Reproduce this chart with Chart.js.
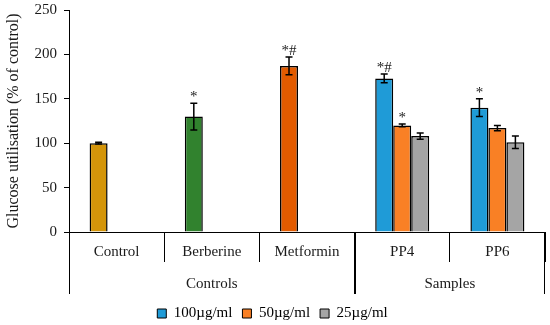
<!DOCTYPE html>
<html>
<head>
<meta charset="utf-8">
<script src="https://cdn.jsdelivr.net/npm/chart.js@4.4.1/dist/chart.umd.min.js"></script>
<style>
  html, body { margin: 0; padding: 0; background: #fff; }
  #wrap { width: 550px; height: 325px; position: relative; }
</style>
</head>
<body>
<div id="wrap"><canvas id="chart"></canvas></div>
<script>
// data
const categories = ['Control', 'Berberine', 'Metformin', 'PP4', 'PP6'];
const groups = ['Controls', 'Samples'];
const groupFirst = [0, 3];
const groupLast = [2, 4];
const seriesNames = ['100\u00b5g/ml', '50\u00b5g/ml', '25\u00b5g/ml'];
const yTicks = [0, 50, 100, 150, 200, 250];

const val100 = [100, 130, 187, 173, 140];
const err100 = [1, 15, 10, 5, 10];
const val50 = [null, null, null, 120, 117];
const err50 = [null, null, null, 1.5, 3];
const val25 = [null, null, null, 108, 101];
const err25 = [null, null, null, 3.5, 7];
const marks100 = ['', '*', '*#', '*#', '*'];
const marks50 = ['', '', '', '*', ''];
const marks25 = ['', '', '', '', ''];

const FONT = 'Liberation Serif';
const INK = '#1a1a1a';

const barColors100 = ['#d4950a', '#31822e', '#e35b00', '#1f9bd7', '#1f9bd7'];
const legendColors = ['#1f9bd7', '#f98025', '#a5a5a5'];
const errors = [err100, err50, err25];
const marks = [marks100, marks50, marks25];

// error bars, significance marks and the second level of the category axis
const extras = {
  id: 'extras',
  afterDatasetsDraw(chart) {
    const { ctx, scales: { y } } = chart;
    ctx.save();
    ctx.strokeStyle = '#000';
    ctx.lineWidth = 1.5;
    ctx.fillStyle = INK;
    ctx.font = '15px "' + FONT + '"';
    ctx.textAlign = 'center';
    ctx.textBaseline = 'alphabetic';
    chart.data.datasets.forEach((ds, d) => {
      const meta = chart.getDatasetMeta(d);
      ds.data.forEach((v, i) => {
        if (v === null) return;
        const e = errors[d][i];
        const x = meta.data[i].x;
        const top = y.getPixelForValue(v + e);
        const bot = y.getPixelForValue(v - e);
        ctx.beginPath();
        ctx.moveTo(x, top); ctx.lineTo(x, bot);
        ctx.moveTo(x - 3.5, top); ctx.lineTo(x + 3.5, top);
        ctx.moveTo(x - 3.5, bot); ctx.lineTo(x + 3.5, bot);
        ctx.stroke();
        if (marks[d][i]) ctx.fillText(marks[d][i], x, top - 2);
      });
    });
    ctx.restore();
  },
  afterDraw(chart) {
    const { ctx, scales: { x } } = chart;
    const half = (x.getPixelForValue(1) - x.getPixelForValue(0)) / 2;
    const yTop = chart.chartArea.bottom;
    ctx.save();
    ctx.strokeStyle = '#000';
    ctx.lineWidth = 1;
    ctx.fillStyle = INK;
    ctx.font = '15px "' + FONT + '"';
    ctx.textAlign = 'center';
    ctx.textBaseline = 'middle';
    groups.forEach((g, k) => {
      const left = x.getPixelForValue(groupFirst[k]) - half;
      const right = x.getPixelForValue(groupLast[k]) + half;
      ctx.beginPath();
      ctx.moveTo(Math.round(left) + 0.5, yTop); ctx.lineTo(Math.round(left) + 0.5, yTop + 62);
      ctx.moveTo(Math.round(right) - 0.5, yTop); ctx.lineTo(Math.round(right) - 0.5, yTop + 62);
      ctx.stroke();
      ctx.fillText(g, (left + right) / 2, yTop + 52);
    });
    ctx.restore();
  }
};

const config = {
  type: 'bar',
  data: {
    labels: categories,
    datasets: [
      { label: seriesNames[0], data: val100, backgroundColor: barColors100 },
      { label: seriesNames[1], data: val50, backgroundColor: legendColors[1] },
      { label: seriesNames[2], data: val25, backgroundColor: legendColors[2] },
    ],
  },
  options: {
    responsive: true,
    maintainAspectRatio: false,
    animation: false,
    layout: { padding: { top: 10, right: 5, left: 0, bottom: -6 } },
    datasets: {
      bar: {
        borderColor: '#000',
        borderWidth: 1.5,
        categoryPercentage: 0.567,
        barPercentage: 1,
      },
    },
    plugins: {
      tooltip: { enabled: false },
      legend: {
        position: 'bottom',
        labels: {
          font: { family: FONT, size: 15 },
          color: INK,
          boxWidth: 9,
          boxHeight: 9,
          padding: 10,
          generateLabels: () => seriesNames.map((n, i) => ({
            text: n,
            fillStyle: legendColors[i],
            strokeStyle: '#000',
            lineWidth: 1,
            hidden: false,
            datasetIndex: i,
          })),
        },
      },
    },
    scales: {
      x: {
        border: { display: true, color: '#000', width: 1 },
        grid: {
          offset: true,
          drawOnChartArea: false,
          drawTicks: true,
          tickLength: 30,
          color: '#000',
        },
        ticks: {
          padding: -19,
          color: INK,
          font: { family: FONT, size: 15 },
          maxRotation: 0,
        },
        afterFit: (s) => { s.height = 64; },
      },
      y: {
        min: 0,
        max: 250,
        afterBuildTicks: (s) => { s.ticks = yTicks.map((v) => ({ value: v })); },
        border: { display: true, color: '#000', width: 1 },
        grid: { drawOnChartArea: false, tickLength: 5, color: '#000' },
        ticks: {
          padding: 7,
          color: INK,
          font: { family: FONT, size: 15, lineHeight: 0.4 },
        },
        title: {
          display: true,
          text: 'Glucose utilisation (% of control)',
          color: INK,
          font: { family: FONT, size: 16 },
          padding: { top: 4, bottom: 6 },
        },
        afterFit: (s) => { s.width = 69; },
      },
    },
  },
  plugins: [extras],
};

new Chart(document.getElementById('chart'), config);
</script>
</body>
</html>
